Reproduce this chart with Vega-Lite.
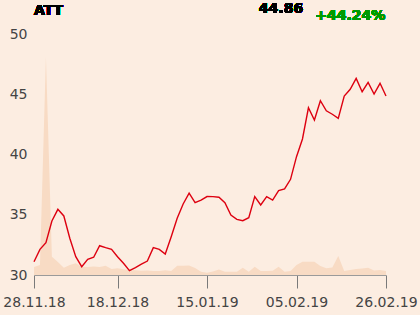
{
  "$schema": "https://vega.github.io/schema/vega-lite/v6.json",
  "width": 352,
  "height": 241,
  "autosize": {"type": "none"},
  "padding": {"left": 34, "top": 34, "right": 34, "bottom": 40},
  "background": "#fcede1",
  "config": {"view": {"stroke": null}, "font": "DejaVu Sans"},
  "data": {"values": [
    {"i":0,"price":31.10,"vol":80},{"i":1,"price":32.13,"vol":100},{"i":2,"price":32.68,"vol":2183},
    {"i":3,"price":34.48,"vol":183},{"i":4,"price":35.45,"vol":130},{"i":5,"price":34.90,"vol":73},
    {"i":6,"price":33.05,"vol":100},{"i":7,"price":31.52,"vol":117},{"i":8,"price":30.69,"vol":83},
    {"i":9,"price":31.30,"vol":80},{"i":10,"price":31.47,"vol":85},{"i":11,"price":32.43,"vol":80},
    {"i":12,"price":32.27,"vol":93},{"i":13,"price":32.13,"vol":60},{"i":14,"price":31.52,"vol":67},
    {"i":15,"price":30.97,"vol":57},{"i":16,"price":30.36,"vol":50},{"i":17,"price":30.62,"vol":47},
    {"i":18,"price":30.90,"vol":43},{"i":19,"price":31.16,"vol":45},{"i":20,"price":32.27,"vol":40},
    {"i":21,"price":32.13,"vol":40},{"i":22,"price":31.74,"vol":47},{"i":23,"price":33.18,"vol":40},
    {"i":24,"price":34.71,"vol":93},{"i":25,"price":35.89,"vol":93},{"i":26,"price":36.80,"vol":95},
    {"i":27,"price":36.00,"vol":70},{"i":28,"price":36.22,"vol":33},{"i":29,"price":36.51,"vol":23},
    {"i":30,"price":36.50,"vol":35},{"i":31,"price":36.45,"vol":55},{"i":32,"price":36.00,"vol":33},
    {"i":33,"price":34.98,"vol":33},{"i":34,"price":34.62,"vol":33},{"i":35,"price":34.51,"vol":73},
    {"i":36,"price":34.76,"vol":33},{"i":37,"price":36.50,"vol":83},{"i":38,"price":35.81,"vol":40},
    {"i":39,"price":36.50,"vol":40},{"i":40,"price":36.22,"vol":43},{"i":41,"price":37.00,"vol":83},
    {"i":42,"price":37.14,"vol":33},{"i":43,"price":37.94,"vol":40},{"i":44,"price":39.82,"vol":100},
    {"i":45,"price":41.29,"vol":133},{"i":46,"price":43.88,"vol":133},{"i":47,"price":42.86,"vol":133},
    {"i":48,"price":44.46,"vol":90},{"i":49,"price":43.63,"vol":67},{"i":50,"price":43.34,"vol":75},
    {"i":51,"price":43.00,"vol":190},{"i":52,"price":44.85,"vol":40},{"i":53,"price":45.41,"vol":50},
    {"i":54,"price":46.32,"vol":60},{"i":55,"price":45.21,"vol":65},{"i":56,"price":45.99,"vol":73},
    {"i":57,"price":45.02,"vol":45},{"i":58,"price":45.91,"vol":50},{"i":59,"price":44.86,"vol":40}
  ]},
  "layer": [
    {
      "mark": {"type": "area", "color": "#f8dbc4", "opacity": 1},
      "encoding": {
        "x": {"field": "i", "type": "quantitative", "scale": {"domain": [0, 59], "nice": false, "zero": false},
          "axis": {"values": [0, 14, 29, 44, 59],
            "labelExpr": "datum.value == 0 ? '28.11.18' : datum.value == 14 ? '18.12.18' : datum.value == 29 ? '15.01.19' : datum.value == 44 ? '05.02.19' : '26.02.19'",
            "title": null, "grid": false, "domainColor": "#9a9a9a", "tickColor": "#7a7a7a", "tickSize": 13,
            "labelPadding": 7, "labelFontSize": 14, "labelColor": "#444444", "labelOverlap": false, "labelBound": false, "labelFlush": false}},
        "y": {"field": "vol", "type": "quantitative", "scale": {"domain": [0, 2410], "nice": false}, "axis": null}
      }
    },
    {
      "encoding": {
        "y": {"type": "quantitative", "scale": {"domain": [30, 50], "nice": false, "zero": false},
          "axis": {"values": [30, 35, 40, 45, 50], "title": null, "domain": false, "ticks": false,
            "gridColor": "#b3b3b3", "labelPadding": 7, "labelFontSize": 14, "labelColor": "#444444"}}
      },
      "layer": [
        {
          "mark": {"type": "line", "color": "#dd0010", "strokeWidth": 1.4},
          "encoding": {
            "x": {"field": "i", "type": "quantitative"},
            "y": {"field": "price", "type": "quantitative"}
          }
        },
        {
          "mark": {"type": "text", "fontSize": 14, "fontWeight": "bold", "color": "#000000", "align": "left", "baseline": "middle"},
          "encoding": {"x": {"datum": 0}, "y": {"datum": 51.91}, "text": {"value": "ATT"}}
        },
        {
          "mark": {"type": "text", "fontSize": 14, "fontWeight": "bold", "color": "#000000", "align": "center", "baseline": "middle"},
          "encoding": {"x": {"datum": 41.4}, "y": {"datum": 52.07}, "text": {"value": "44.86"}}
        },
        {
          "mark": {"type": "text", "fontSize": 14, "fontWeight": "bold", "color": "#009a00", "align": "center", "baseline": "middle"},
          "encoding": {"x": {"datum": 53.0}, "y": {"datum": 51.49}, "text": {"value": "+44.24%"}}
        }
      ]
    }
  ],
  "resolve": {"scale": {"y": "independent"}}
}
